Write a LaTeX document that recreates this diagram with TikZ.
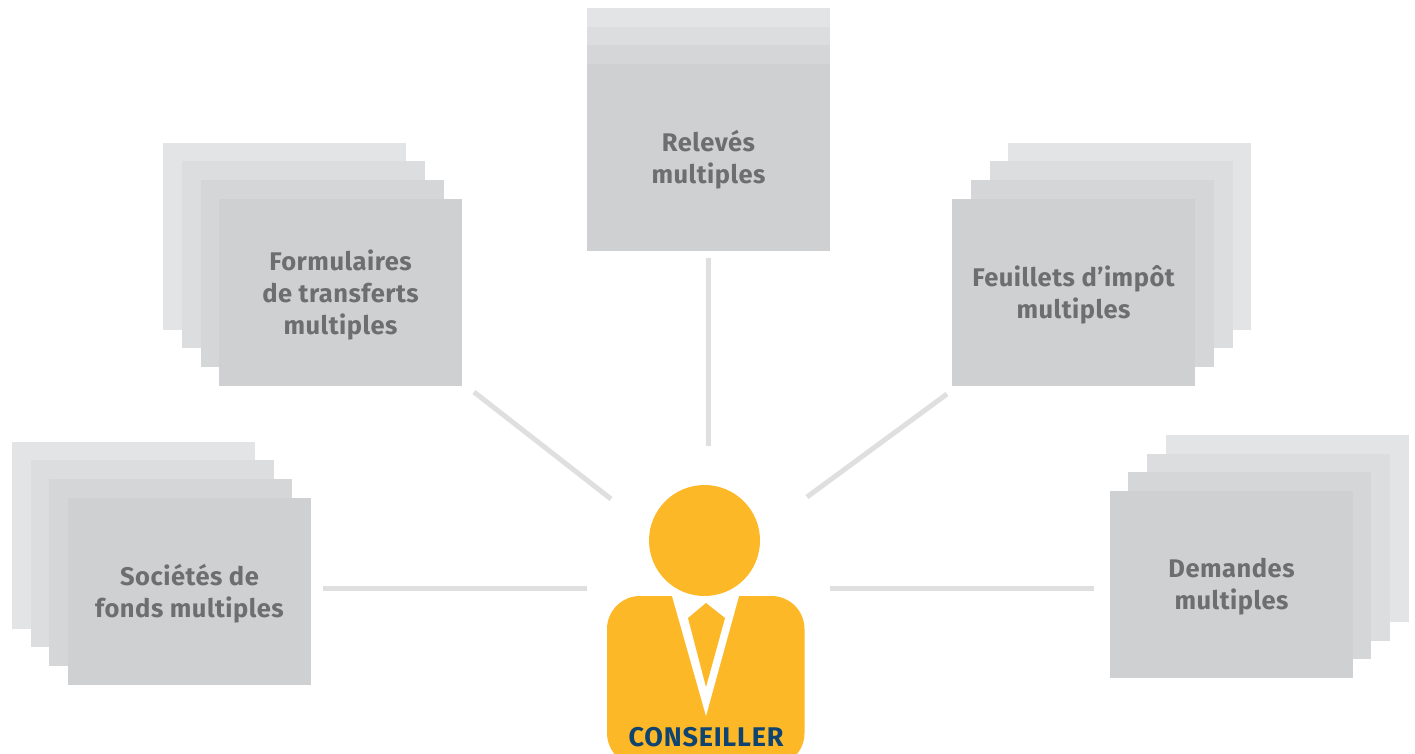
\documentclass[tikz,border=0pt]{standalone}
\usepackage{fontspec}
\setmainfont{Fira Sans}
\newfontfamily\labelfont[LetterSpace=2]{Fira Sans}
\newfontfamily\advisorfont[LetterSpace=3]{Fira Sans}
\usetikzlibrary{positioning}
\definecolor{sheetA}{HTML}{CFD0D2}
\definecolor{sheetB}{HTML}{D5D6D8}
\definecolor{sheetC}{HTML}{DCDDDF}
\definecolor{sheetD}{HTML}{E3E4E6}
\definecolor{linkgrey}{HTML}{DFDFDF}
\definecolor{labelgrey}{HTML}{6D6E70}
\definecolor{personyellow}{HTML}{FDB827}
\definecolor{personblue}{HTML}{0F4470}
\tikzset{
	sheet/.style={minimum width=243pt, minimum height=187pt, inner sep=0pt, outer sep=0pt},
	front/.style={sheet, fill=sheetA},
	second/.style={sheet, fill=sheetB},
	third/.style={sheet, fill=sheetC},
	last/.style={sheet, fill=sheetD},
	caption/.style={text=labelgrey, align=center, inner sep=0pt, yshift=-2.5pt, font=\labelfont\fontsize{25.5}{32}\selectfont\bfseries},
	link/.style={draw=linkgrey, line width=5pt}
}

\begin{document}
\begin{tikzpicture}[x=1pt, y=-1pt]
	\useasboundingbox (0,0) rectangle (1415,753);

	% Releves
	\node[last] (relD) at (708.5,101.5) {};
	\node[third] (relC) at (708.5,120.5) {};
	\node[second] (relB) at (708.5,138.5) {};
	\node[front] (relA) at (708.5,157.5) {};
	\node[caption] (relT) at (relA) {Relevés\\multiples};

	% Formulaires
	\node[last] (forD) at (284.5,236.5) {};
	\node[third] (forC) at (303.5,254.5) {};
	\node[second] (forB) at (322.5,273.5) {};
	\node[front] (forA) at (340.5,292.5) {};
	\node[caption] (forT) at (forA) {Formulaires\\de transferts\\multiples};

	% Feuillets
	\node[last] (feuD) at (1129.5,236.5) {};
	\node[third] (feuC) at (1111.5,254.5) {};
	\node[second] (feuB) at (1092.5,273.5) {};
	\node[front] (feuA) at (1073.5,292.5) {};
	\node[caption] (feuT) at (feuA) {Feuillets d’impôt\\multiples};

	% Societes
	\node[last] (socD) at (133.5,535.5) {};
	\node[third] (socC) at (152.5,553.5) {};
	\node[second] (socB) at (170.5,572.5) {};
	\node[front] (socA) at (189.5,591.5) {};
	\node[caption] (socT) at (socA) {Sociétés de\\fonds multiples};

	% Demandes
	\node[last] (demD) at (1287.5,528.5) {};
	\node[third] (demC) at (1268.5,547.5) {};
	\node[second] (demB) at (1249.5,565.5) {};
	\node[front] (demA) at (1231.5,584.5) {};
	\node[caption] (demT) at (demA) {Demandes\\multiples};

	% Lines
	\coordinate (relS) at (708,258);
	\coordinate (relE) at (708,446);
	\coordinate (forS) at (474,392);
	\coordinate (forE) at (611,499);
	\coordinate (feuS) at (947,394);
	\coordinate (feuE) at (807,497);
	\coordinate (socS) at (323,588);
	\coordinate (socE) at (587,588);
	\coordinate (demS) at (1094,588);
	\coordinate (demE) at (830,588);
	\draw[link] (relS) -- (relE);
	\draw[link] (forS) -- (forE);
	\draw[link] (feuS) -- (feuE);
	\draw[link] (socS) -- (socE);
	\draw[link] (demS) -- (demE);

	% Person
	\node[circle, fill=personyellow, minimum size=111pt, inner sep=0pt, outer sep=0pt] (head) at (704.5,540.5) {};
	\begin{scope}
		\clip (0,0) rectangle (1415,753);
		\fill[personyellow, rounded corners=33pt] (607,596) rectangle (804.5,766);
	\end{scope}
	\fill[white] (672,596) -- (739,596) -- (706,716) -- cycle;
	\fill[personyellow] (706,603) -- (725,618) -- (706,687) -- (688,618) -- cycle;
	\node[text=personblue, font=\advisorfont\fontsize{27}{30}\selectfont\bfseries, inner sep=0pt] (advisor) at (706,737) {CONSEILLER};
\end{tikzpicture}
\end{document}
